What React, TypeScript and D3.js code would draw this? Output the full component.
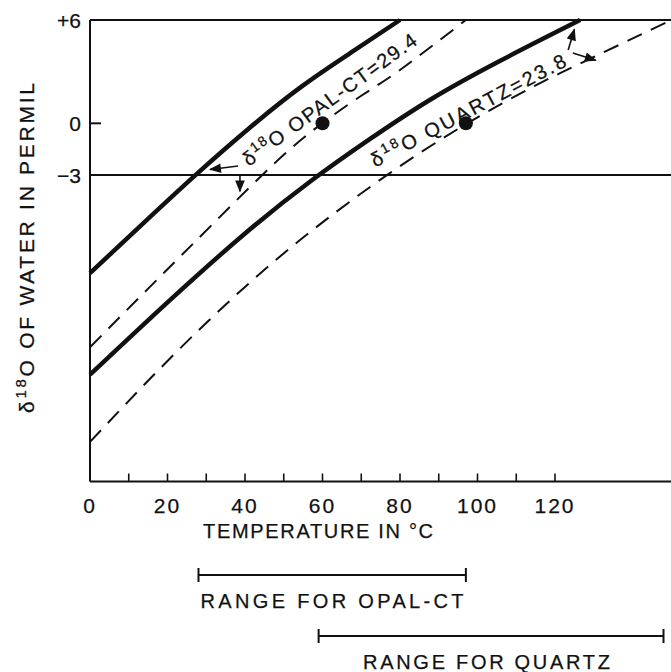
import * as d3 from "d3"

// temperature (°C) / δ18O of water (permil)
const opalSolidT = [0, 14, 27, 41, 55, 68, 80]
const opalSolidV = [-8.7, -5.75, -3.05, -0.3, 2.2, 4.2, 6.0]
const opalDashT = [0, 15, 27, 44, 57, 70, 80, 97]
const opalDashV = [-13.0, -9.6, -6.9, -3.1, -0.5, 1.6, 3.1, 6.0]
const quartzSolidT = [0, 20, 40, 57, 72, 88, 106, 126.5]
const quartzSolidV = [-14.6, -10.4, -6.4, -3.35, -0.95, 1.4, 3.65, 6.0]
const quartzDashT = [0, 20, 40, 58, 77, 97, 115, 130, 150]
const quartzDashV = [-18.5, -13.8, -9.5, -6.1, -2.95, -0.05, 2.2, 3.85, 6.0]

const dotT = [60, 97]
const dotV = [0, 0]

const xTicks = [10, 20, 30, 40, 50, 60, 70, 80, 90, 100, 110, 120]
const xTickLabels = ["0", "20", "40", "60", "80", "100", "120"]
const yTickValues = [6, 0, -3]
const yTickLabels = ["+6", "0", "−3"]

const rangeNames = ["OPAL-CT", "QUARTZ"]
const rangeStart = [28, 59]
const rangeEnd = [97, 148]

const FONT = "'Liberation Sans', Arial, sans-serif"

export default function App() {
  const width = 671
  const height = 672

  const x = d3.scaleLinear().domain([0, 150]).range([90, 671.25])
  const y = d3.scaleLinear().domain([-20.8, 6]).range([481.5, 20])

  const line = d3
    .line<[number, number]>()
    .x((d) => x(d[0]))
    .y((d) => y(d[1]))
    .curve(d3.curveNatural)

  const zip = (t: number[], v: number[]) => t.map((d, i) => [d, v[i]] as [number, number])

  const curves = [
    { pts: zip(opalSolidT, opalSolidV), dashed: false },
    { pts: zip(opalDashT, opalDashV), dashed: true },
    { pts: zip(quartzSolidT, quartzSolidV), dashed: false },
    { pts: zip(quartzDashT, quartzDashV), dashed: true },
  ]

  // annotation arrows, in data units [t1, v1, t2, v2]
  const arrows = [
    [38.2, -2.48, 31.0, -2.68],
    [38.7, -3.05, 38.7, -3.95],
    [123.4, 4.26, 125.0, 5.45],
    [124.6, 4.08, 130.5, 3.66],
  ]

  const label = (text: string, t: number, v: number, angle: number, len: number) => (
    <text
      transform={`translate(${x(t)},${y(v)}) rotate(${angle})`}
      textAnchor="middle"
      dy={7}
      fontSize={20}
      textLength={len}
      lengthAdjust="spacing"
    >
      δ
      <tspan dy={-8} fontSize={14}>
        18
      </tspan>
      <tspan dy={8}>{text}</tspan>
    </text>
  )

  const rangeY = [575, 636]

  return (
    <svg
      width={width}
      height={height}
      style={{ position: "absolute", left: 0, top: 0, background: "#fff" }}
      fontFamily={FONT}
      fill="#111"
    >
      <defs>
        <marker id="head" viewBox="0 0 10 8" refX={9} refY={4} markerWidth={8} markerHeight={6} orient="auto">
          <path d="M0,0 L10,4 L0,8 z" fill="#111" />
        </marker>
      </defs>

      {/* frame */}
      <g stroke="#111" strokeWidth={2} fill="none">
        <line x1={x(0)} x2={x(0)} y1={y(6)} y2={y(-20.8)} />
        <line x1={x(0)} x2={x(150)} y1={y(6)} y2={y(6)} />
        <line x1={x(0)} x2={x(150)} y1={y(-3)} y2={y(-3)} strokeWidth={1.8} />
        <line x1={x(0)} x2={x(150)} y1={y(-20.8)} y2={y(-20.8)} />
        <line x1={x(0)} x2={x(0) + 11} y1={y(0)} y2={y(0)} />
        {xTicks.map((t) => (
          <line key={t} x1={x(t)} x2={x(t)} y1={y(-20.8)} y2={y(-20.8) - 8} strokeWidth={1.6} />
        ))}
      </g>

      {/* curves */}
      <g fill="none" stroke="#111">
        {curves.map((c, i) => (
          <path
            key={i}
            d={line(c.pts) || ""}
            strokeWidth={c.dashed ? 2 : 4.5}
            strokeDasharray={c.dashed ? "16 10" : undefined}
          />
        ))}
      </g>

      {dotT.map((t, i) => (
        <circle key={i} cx={x(t)} cy={y(dotV[i])} r={7} />
      ))}

      <g stroke="#111" strokeWidth={1.6}>
        {arrows.map((a, i) => (
          <line key={i} x1={x(a[0])} y1={y(a[1])} x2={x(a[2])} y2={y(a[3])} markerEnd="url(#head)" />
        ))}
      </g>

      <g stroke="#111" strokeWidth={0.25}>
        {label("O OPAL-CT=29.4", 61.8, 1.38, -36, 210)}
        {label("O QUARTZ=23.8", 97.6, 0.75, -28, 218)}

        {/* y axis */}
        {yTickValues.map((v, i) => (
          <text key={v} x={81} y={y(v)} dy={8} textAnchor="end" fontSize={21}>
            {yTickLabels[i]}
          </text>
        ))}
        <text
          transform={`translate(${34},${248}) rotate(-90)`}
          textAnchor="middle"
          fontSize={21}
          textLength={330}
          lengthAdjust="spacing"
        >
          δ
          <tspan dy={-8} fontSize={15}>
            18
          </tspan>
          <tspan dy={8}>O OF WATER IN PERMIL</tspan>
        </text>

        {/* x axis */}
        {xTickLabels.map((s) => (
          <text key={s} x={x(+s)} y={513} textAnchor="middle" fontSize={21} letterSpacing={2}>
            {s}
          </text>
        ))}
        <text x={318} y={538} textAnchor="middle" fontSize={20} textLength={230} lengthAdjust="spacing">
          TEMPERATURE IN °C
        </text>
      </g>

      {/* ranges */}
      {rangeNames.map((n, i) => {
        const x1 = x(rangeStart[i])
        const x2 = x(rangeEnd[i])
        const yy = rangeY[i]
        return (
          <g key={n}>
            <g stroke="#111" strokeWidth={2}>
              <line x1={x1} x2={x2} y1={yy} y2={yy} />
              <line x1={x1} x2={x1} y1={yy - 7} y2={yy + 7} />
              <line x1={x2} x2={x2} y1={yy - 7} y2={yy + 7} />
            </g>
            <text
              x={i === 0 ? x1 + 2 : 363}
              y={yy + 33}
              fontSize={20}
              stroke="#111"
              strokeWidth={0.25}
              textLength={i === 0 ? 263 : 247}
              lengthAdjust="spacing"
            >
              RANGE FOR {n}
            </text>
          </g>
        )
      })}
    </svg>
  )
}
